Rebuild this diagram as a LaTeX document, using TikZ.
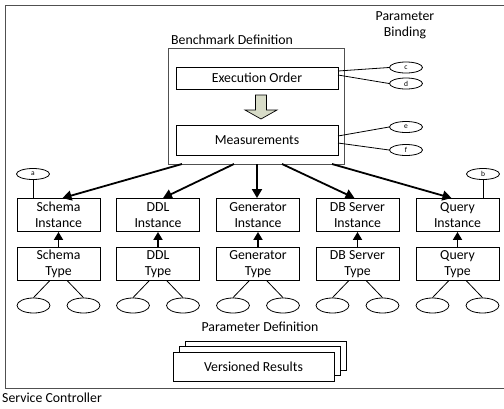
\documentclass[tikz,border=0pt]{standalone}
\usepackage{fontspec}
\setmainfont{Carlito}
\usetikzlibrary{shapes.geometric,arrows.meta,positioning}
\definecolor{framegray}{RGB}{80,80,80}
\definecolor{flowfill}{RGB}{216,220,200}
\tikzset{
  every node/.style={font=\fontsize{13.8}{16.5}\selectfont, inner sep=0pt},
  box/.style={draw=black, line width=0.9pt, minimum width=83pt, minimum height=33pt, align=center},
  wide/.style={draw=black, line width=0.9pt, align=center},
  param/.style={draw=black, line width=0.8pt, ellipse, minimum width=33pt, minimum height=15pt, fill=white},
  tag/.style={draw=black, line width=0.8pt, ellipse, fill=white, minimum width=33pt, minimum height=11pt, font=\fontsize{7.5}{7.5}\selectfont},
  link/.style={line width=0.8pt},
  flow/.style={line width=1.8pt, -{Triangle[length=9pt, width=10pt]}},
  typeflow/.style={line width=1.8pt, -{Triangle[length=8pt, width=9pt]}},
}
\begin{document}
\begin{tikzpicture}[x=1pt, y=-1pt]
\useasboundingbox (0,0) rectangle (504,408);
\fill[white] (0,0) rectangle (504,408);

% service controller frame
\draw[framegray, line width=1pt] (520,5) -- (5,5) -- (5,388) -- (520,388);
\node[anchor=west] (sc) at (2,398) {Service Controller};

% benchmark definition
\node[draw=framegray, line width=1pt, minimum width=176pt, minimum height=116pt] (bench) at (256,106) {};
\node[anchor=south west] (benchlbl) at (171,45) {Benchmark Definition};
\node[wide, minimum width=162pt, minimum height=22pt] (exec) at (257,78) {Execution Order};
\node[wide, minimum width=162pt, minimum height=30pt] (meas) at (257,140) {Measurements};
\draw[fill=flowfill, line width=0.7pt]
  (255.5,95) -- (266.5,95) -- (266.5,110) -- (277,110) -- (261,119) -- (245,110) -- (255.5,110) -- cycle;

% parameter binding
\node[align=center] (pb) at (405,25.5) {Parameter\\Binding};
\node[tag] (c) at (406,67.5) {c};
\node[tag] (d) at (406,83.5) {d};
\node[tag] (e) at (406,127) {e};
\node[tag] (f) at (406,150) {f};
\draw[link] (338,71) -- (c.west);
\draw[link] (338,75) -- (d.west);
\draw[link] (338,136) -- (e.west);
\draw[link] (338,143) -- (f.west);

% instances and types
\foreach \n/\t/\x in {schema/Schema/58.5, ddl/DDL/158, gen/Generator/258, db/DB Server/357.5, query/Query/457.5}{
  \node[box] (\n i) at (\x,215) {\t\\Instance};
  \node[box] (\n t) at (\x,264) {\t\\Type};
  \draw[typeflow] (\n t.north) -- (\n i.south);
  \node[param] (\n p1) at (\x-25,305.5) {};
  \node[param] (\n p2) at (\x+25,305.5) {};
  \draw[link] ([xshift=-9pt]\n t.south) -- (\n p1.north);
  \draw[link] ([xshift=9pt]\n t.south) -- (\n p2.north);
}

% bindings on instances
\node[tag] (a) at (33,174) {a};
\node[tag] (b) at (483,174) {b};
\draw[link] (a.south) -- (a.south |- schemai.north);
\draw[link] (b.south) -- (b.south |- queryi.north);

% benchmark to instances
\coordinate (o1) at (182,164);
\coordinate (o2) at (234,164);
\coordinate (o3) at (257,164);
\coordinate (o4) at (282,164);
\coordinate (o5) at (332,164);
\draw[flow] (o1) -- ([xshift=4pt]schemai.north);
\draw[flow] (o2) -- ([xshift=5pt]ddli.north);
\draw[flow] (o3) -- (o3 |- geni.north);
\draw[flow] (o4) -- ([xshift=-3pt]dbi.north);
\draw[flow] (o5) -- ([xshift=-6pt]queryi.north);

% parameter definition and results
\node (pd) at (260,327) {Parameter Definition};
\node[wide, fill=white, minimum width=161pt, minimum height=29pt] (r3) at (265.5,355.5) {};
\node[wide, fill=white, minimum width=161pt, minimum height=29pt] (r2) at (259.5,361) {};
\node[wide, fill=white, minimum width=161pt, minimum height=29pt] (r1) at (253.5,366.5) {Versioned Results};
\end{tikzpicture}
\end{document}
